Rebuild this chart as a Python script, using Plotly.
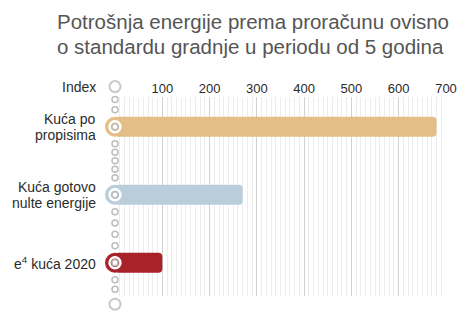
import numpy as np
import plotly.graph_objects as go

# Energy consumption by building standard (index, 5-year period)
categories = ["Kuća po<br>propisima", "Kuća gotovo<br>nulte energije", "e<sup>4</sup> kuća 2020"]
values = [680, 270, 100]
bar_colors = ["#E3BE87", "#BACDDA", "#A8222A"]
tick_values = [100, 200, 300, 400, 500, 600, 700]
tick_labels = ["100", "200", "300", "400", "500", "600", "700"]
header_label = "Index"
title_lines = ["Potrošnja energije prema proračunu ovisno",
               "o standardu gradnje u periodu od 5 godina"]

W, H = 460, 322
M_L, M_R, M_T, M_B = 115, 14, 78, 10
PLOT_W = W - M_L - M_R
PLOT_H = H - M_T - M_B
ROW_PX = 68.0       # pixel distance between bar rows
FIRST_ROW_PX = 126.7
GRID_TOP_PX, GRID_BOT_PX = 97, 296
LABEL_LINE_PX = 16  # line spacing of the wrapped category labels
FONT = "Liberation Sans, Arial, sans-serif"

n = len(categories)
rows = np.arange(n)

# vertical layout of the dotted index column (in row units)
head_y = -0.59
foot_y = n - 1 + 0.61
dots_between = [2, 5, 4, 2]

def dot_rows():
    anchors = [head_y] + list(rows) + [foot_y]
    out = []
    for i, cnt in enumerate(dots_between):
        a, b = anchors[i], anchors[i + 1]
        pa = 0.19 if i == 0 else 0.25
        pb = 0.22 if i == len(dots_between) - 1 else 0.25
        out.extend(np.linspace(a + pa, b - pb, cnt))
    return out

def px_to_row(p):
    return (p - FIRST_ROW_PX) / ROW_PX

def paper_x(p):
    return (p - M_L) / PLOT_W

def paper_y(p):
    return (H - M_B - p) / PLOT_H

fig = go.Figure()

# invisible trace that carries the gridded scale axis (subplot xy, drawn first)
fig.add_trace(go.Scatter(x=[0, 700], y=[0, 1], mode="markers",
                         marker=dict(opacity=0), showlegend=False, hoverinfo="skip"))

common = dict(xaxis="x2", yaxis="y2", showlegend=False, hoverinfo="skip")

# bars
fig.add_trace(go.Bar(
    x=values, y=rows, orientation="h", base=0,
    marker=dict(color=bar_colors, line=dict(width=0)),
    width=20 / ROW_PX, **common,
))

# rounded left caps of the bars
fig.add_trace(go.Scatter(
    x=[0] * n, y=rows, mode="markers", cliponaxis=False,
    marker=dict(size=20, color=bar_colors, line=dict(width=0)), **common,
))

# white ring on each bar
fig.add_trace(go.Scatter(
    x=[0] * n, y=rows, mode="markers", cliponaxis=False,
    marker=dict(size=11, symbol="circle-open", color="white", line=dict(width=2.4, color="white")),
    **common,
))

# small dots of the index column (plus one inside each bar ring)
small = dot_rows() + list(rows)
fig.add_trace(go.Scatter(
    x=[0] * len(small), y=small, mode="markers", cliponaxis=False,
    marker=dict(size=6, color="white", line=dict(width=1.5, color="#BDBDBD")), **common,
))

# large end circles of the index column
fig.add_trace(go.Scatter(
    x=[0, 0], y=[head_y, foot_y], mode="markers", cliponaxis=False,
    marker=dict(size=11, color="white", line=dict(width=2, color="#C9C9C9")), **common,
))

label_font = dict(size=14, color="#2B2B2B", family=FONT)
annotations = []
for r, lab in zip(rows, categories):
    parts = lab.split("<br>")
    k = len(parts)
    for j, part in enumerate(parts):
        annotations.append(dict(
            x=0, y=r, xref="x2", yref="y2", text=part, showarrow=False,
            xanchor="right", yanchor="middle", xshift=-17,
            yshift=((k - 1) / 2 - j) * LABEL_LINE_PX, font=label_font,
        ))
annotations.append(dict(
    x=0, y=head_y, xref="x2", yref="y2", text=header_label, showarrow=False,
    xanchor="right", yanchor="middle", xshift=-17, font=label_font,
))
for i, line in enumerate(title_lines):
    annotations.append(dict(
        x=paper_x(55), y=paper_y(22 + 24 * i), xref="paper", yref="paper",
        text=line, showarrow=False, xanchor="left", yanchor="middle",
        font=dict(size=20.5, color="#555555", family=FONT),
    ))

fig.update_layout(
    width=W, height=H,
    margin=dict(l=M_L, r=M_R, t=M_T, b=M_B, pad=0, autoexpand=False),
    paper_bgcolor="white", plot_bgcolor="rgba(0,0,0,0)",
    barcornerradius=4,
    annotations=annotations,
    xaxis=dict(
        range=[0, 700], side="top", anchor="y", tickmode="array",
        tickvals=tick_values, ticktext=tick_labels, automargin=False,
        showgrid=True, gridcolor="#D2D2D2", gridwidth=1,
        zeroline=False, showline=False, ticks="",
        tickfont=dict(size=13, color="#2B2B2B", family=FONT),
        minor=dict(tickmode="array", tickvals=[v for v in range(10, 700, 10) if v % 100],
                   showgrid=True, gridcolor="#EDEDED", gridwidth=1),
        fixedrange=True,
    ),
    yaxis=dict(
        domain=[paper_y(GRID_BOT_PX), paper_y(GRID_TOP_PX)], anchor="x",
        range=[0, 1], visible=False, fixedrange=True, automargin=False,
    ),
    xaxis2=dict(range=[0, 700], anchor="y2", visible=False, fixedrange=True, automargin=False),
    yaxis2=dict(
        range=[px_to_row(H - M_B), px_to_row(M_T)], anchor="x2", domain=[0, 1],
        visible=False, fixedrange=True, automargin=False,
    ),
)

fig.write_html("out.html")
